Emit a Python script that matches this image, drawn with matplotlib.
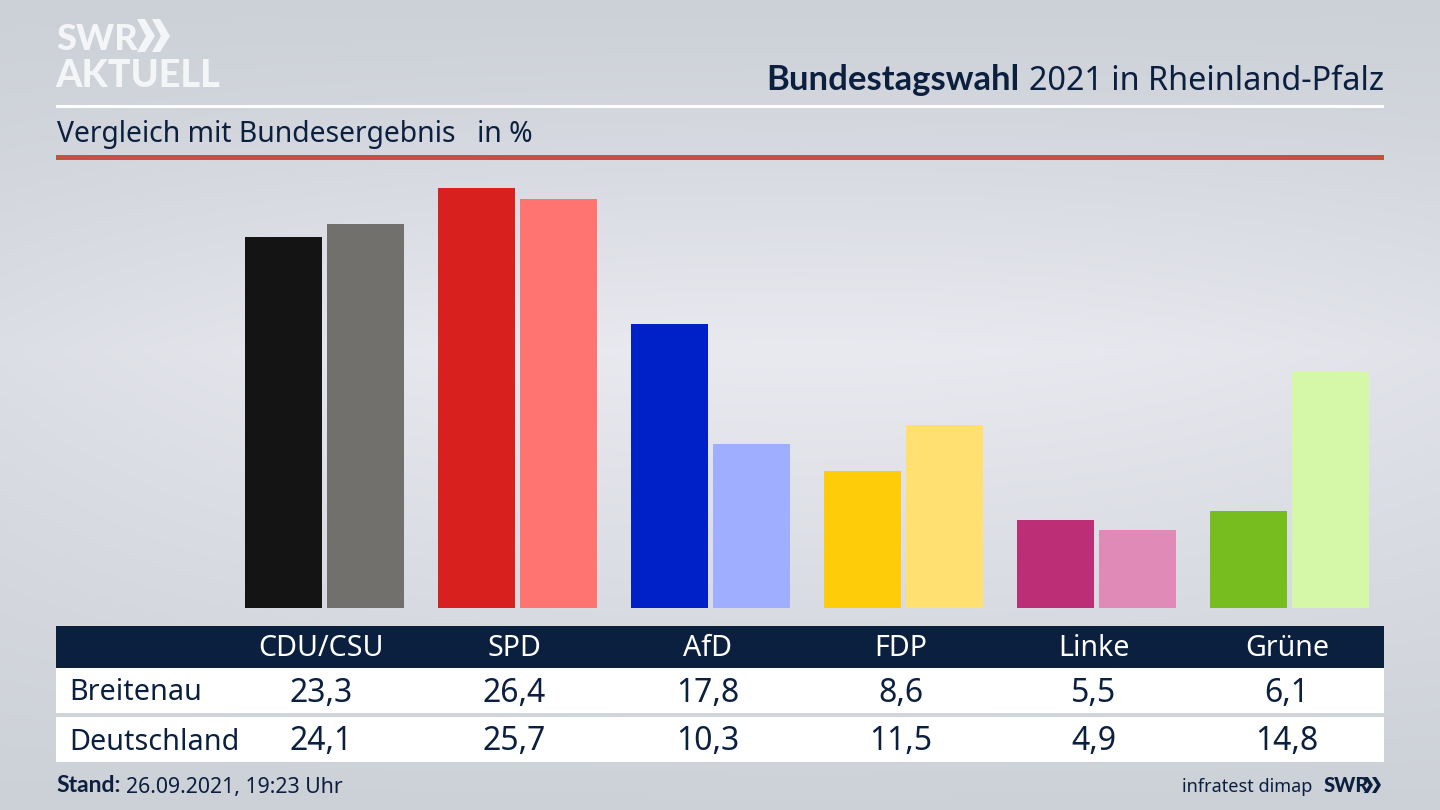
import numpy as np
import matplotlib
matplotlib.use("Agg")
import matplotlib.pyplot as plt
from matplotlib.patches import Rectangle, Polygon

parties = ["CDU/CSU", "SPD", "AfD", "FDP", "Linke", "Grüne"]
breitenau = [23.3, 26.4, 17.8, 8.6, 5.5, 6.1]
deutschland = [24.1, 25.7, 10.3, 11.5, 4.9, 14.8]
colors_local = ["#141414", "#d8201f", "#0021c8", "#ffcc0a", "#bc2f77", "#78bd1f"]
colors_national = ["#71706d", "#ff7370", "#a0aeff", "#ffe070", "#e08ab8", "#d4f7a8"]
row_names = ["Breitenau", "Deutschland"]
NAVY = "#0b1f3f"
LOGO = "#f4f5f7"
plt.rcParams["font.family"] = ["Noto Sans", "DejaVu Sans"]

W, H = 1440, 810
fig = plt.figure(figsize=(14.4, 8.1), dpi=100)

# background + frame axes in pixel coordinates
bg = fig.add_axes([0, 0, 1, 1])
yy, xx = np.mgrid[0:H:2, 0:W:2]
v = np.interp(yy, [0, 130, 350, 560, 810], [0.0, 0.30, 1.0, 0.55, 0.0])
h = 1 - 0.45 * (np.abs(xx - 800) / 800) ** 2
t = v * h
c0 = np.array([204, 208, 215]) / 255
c1 = np.array([233, 234, 240]) / 255
img = c0 + (c1 - c0) * t[..., None]
bg.imshow(img, extent=[0, W, H, 0], aspect="auto", interpolation="bilinear", zorder=0)
bg.set_xlim(0, W); bg.set_ylim(H, 0); bg.axis("off")

# header
bg.add_patch(Rectangle((56, 104.5), 1328, 3, color="white", lw=0))
bg.add_patch(Rectangle((56, 155), 1328, 5, color="#c8503c", lw=0))
bg.text(1384, 90, "2021 in Rheinland-Pfalz", ha="right", va="baseline",
        fontsize=23.3, color=NAVY)
bg.text(1019, 90, "Bundestagswahl", ha="right", va="baseline",
        fontsize=24.9, fontweight="bold", color=NAVY, family="Lato")
bg.text(57, 142, "Vergleich mit Bundesergebnis", ha="left", va="baseline",
        fontsize=20.4, color=NAVY)
bg.text(477, 142, "in %", ha="left", va="baseline", fontsize=20.4, color=NAVY)

# logo
bg.text(56, 50, "SWR", ha="left", va="baseline", fontsize=26, fontweight="black",
        color=LOGO, family="Lato")
bg.text(55, 87, "AKTUELL", ha="left", va="baseline", fontsize=27.2, fontweight="black",
        color=LOGO, family="Lato")
for x0 in (137, 152):
    bg.add_patch(Polygon([(x0, 19), (x0 + 8, 19), (x0 + 18, 36), (x0 + 8, 52), (x0, 52), (x0 + 9, 36)],
                         closed=True, color=LOGO, lw=0))

# bars
step = 193.1
c_first = 324.5
xlim = (-c_first / step, (W - c_first) / step)
scale = 420.5 / 26.4
top_px, base_px = 170, 608
ax = fig.add_axes([0, 1 - base_px / H, 1, (base_px - top_px) / H])
ax.patch.set_alpha(0)
ax.set_xlim(*xlim)
ax.set_ylim(0, (base_px - top_px) / scale)
ax.axis("off")
x = np.arange(len(parties))
bw = 77 / step
off = 41 / step
ax.bar(x - off, breitenau, bw, color=colors_local)
ax.bar(x + off, deutschland, bw, color=colors_national)

# table
tb = fig.add_axes([0, 0, 1, 1])
tb.patch.set_alpha(0)
tb.set_xlim(*xlim); tb.set_ylim(H, 0); tb.axis("off")
def fx(px):
    return (px - c_first) / step
tb.add_patch(Rectangle((fx(56), 625.5), fx(1384) - fx(56), 42.5, color=NAVY, lw=0))
tb.add_patch(Rectangle((fx(56), 668), fx(1384) - fx(56), 45, color="white", lw=0))
tb.add_patch(Rectangle((fx(56), 717), fx(1384) - fx(56), 45, color="white", lw=0))
shift = -3 / step
for i, p in enumerate(parties):
    tb.text(i + shift, 656, p, ha="center", va="baseline", fontsize=20.6, color="white")
    tb.text(i + shift, 702, f"{breitenau[i]:.1f}".replace(".", ","), ha="center", va="baseline",
            fontsize=23, color=NAVY)
    tb.text(i + shift, 750.5, f"{deutschland[i]:.1f}".replace(".", ","), ha="center", va="baseline",
            fontsize=23, color=NAVY)
tb.text(fx(69.5), 700, row_names[0], ha="left", va="baseline", fontsize=20.7, color=NAVY)
tb.text(fx(69.5), 749.5, row_names[1], ha="left", va="baseline", fontsize=20.7, color=NAVY)

# footer
bg.text(56, 792.5, "Stand:", ha="left", va="baseline", fontsize=16.5, fontweight="bold",
        color=NAVY, family="Lato")
bg.text(126, 792.5, "26.09.2021, 19:23 Uhr", ha="left", va="baseline", fontsize=15.3, color=NAVY)
bg.text(1312, 791.5, "infratest dimap", ha="right", va="baseline", fontsize=13, color=NAVY)
bg.text(1324, 791.5, "SWR", ha="left", va="baseline", fontsize=14.5, fontweight="black",
        color=NAVY, family="Lato")
for x0 in (1364, 1372):
    bg.add_patch(Polygon([(x0, 777), (x0 + 4, 777), (x0 + 9, 785), (x0 + 4, 793), (x0, 793), (x0 + 5, 785)],
                         closed=True, color=NAVY, lw=0))

fig.savefig("out.png", dpi=100)
